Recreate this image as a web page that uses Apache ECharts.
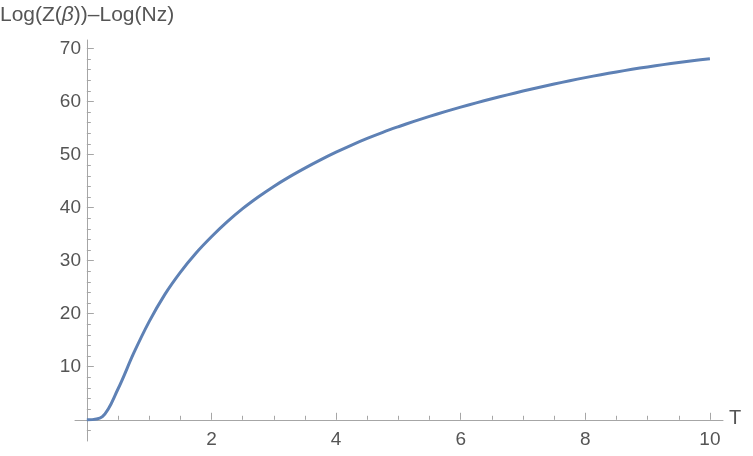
<!DOCTYPE html>
<html>
<head>
<meta charset="UTF-8">
<script type="text/javascript" src="https://cdn.jsdelivr.net/npm/echarts@6.0.0/dist/echarts.min.js"></script>
<title>Log Z</title>
<style>body{margin:0;background:#fff;}</style>
</head>
<body>
	<div id="main" style="width:753px;height:456px;"></div>
	<script type="text/javascript">
		// values, T in steps of 0.25
		var temps = [0, 0.25, 0.5, 0.75, 1, 1.25, 1.5, 1.75, 2, 2.25, 2.5, 2.75, 3, 3.25, 3.5, 3.75, 4, 4.25, 4.5, 4.75, 5,
			5.25, 5.5, 5.75, 6, 6.25, 6.5, 6.75, 7, 7.25, 7.5, 7.75, 8, 8.25, 8.5, 8.75, 9, 9.25, 9.5, 9.75, 10];
		var logZ = [0, 0.6, 5.8, 12.5, 18.5, 23.6, 27.8, 31.4, 34.5, 37.3, 39.8, 42.0, 44.0, 45.8, 47.45, 49.0, 50.45, 51.8, 53.05, 54.2, 55.25,
			56.25, 57.2, 58.1, 58.95, 59.75, 60.52, 61.26, 61.97, 62.65, 63.3, 63.92, 64.51, 65.06, 65.58, 66.07, 66.53, 66.96, 67.36, 67.73, 68.05];

		var xLabels = [2, 4, 6, 8, 10];
		var xMajor = [0, 2, 4, 6, 8, 10];
		var xMinor = [0.5, 1, 1.5, 2.5, 3, 3.5, 4.5, 5, 5.5, 6.5, 7, 7.5, 8.5, 9, 9.5];
		var yLabels = [10, 20, 30, 40, 50, 60, 70];
		var yMajor = [0, 10, 20, 30, 40, 50, 60, 70];
		var yMinor = [-2, 2, 4, 6, 8, 12, 14, 16, 18, 22, 24, 26, 28, 32, 34, 36, 38, 42, 44, 46, 48, 52, 54, 56, 58, 62, 64, 66, 68];

		var pts = [];
		for (var i = 0; i < temps.length; i++) pts.push([temps[i], logZ[i]]);

		var axisCol = '#a6a6a6';
		var txtCol = '#555555';
		var font = 'Liberation Sans, Arial, sans-serif';

		var myChart = echarts.init(document.getElementById('main'));
		var xBase = {
			type: 'value', min: -0.19, max: 10.21, position: 'bottom',
			splitLine: {show: false}
		};
		var yBase = {
			type: 'value', min: -4, max: 71.6, position: 'left',
			splitLine: {show: false}
		};
		var option = {
			animation: false,
			graphic: [
				{type: 'text', left: 0, top: 5, style: {text: 'Log(Z({i|β}))\u2013Log(Nz)', fill: txtCol, font: '21px ' + font,
					rich: {i: {fontStyle: 'italic', fontSize: 21, fontFamily: font, fill: txtCol}}}},
				{type: 'text', left: 729, top: 408, style: {text: 'T', fill: txtCol, font: '20px ' + font}}
			],
			grid: {left: 75, right: 30, top: 40, bottom: 15, containLabel: false, outerBoundsMode: 'none'},
			xAxis: [
				Object.assign({}, xBase, {
					axisLine: {onZero: true, lineStyle: {color: axisCol, width: 1}},
					axisTick: {inside: true, length: 7, customValues: xMajor, lineStyle: {color: axisCol}},
					axisLabel: {customValues: xLabels, margin: -11, color: txtCol, fontSize: 19, fontFamily: font}
				}),
				Object.assign({}, xBase, {
					axisLine: {show: false, onZero: true},
					axisTick: {inside: true, length: 4, customValues: xMinor, lineStyle: {color: axisCol}},
					axisLabel: {show: false}
				})
			],
			yAxis: [
				Object.assign({}, yBase, {
					axisLine: {show: true, onZero: true, lineStyle: {color: axisCol, width: 1}},
					axisTick: {show: true, inside: true, length: 7, customValues: yMajor, lineStyle: {color: axisCol}},
					axisLabel: {customValues: yLabels, margin: -6, color: txtCol, fontSize: 19, fontFamily: font}
				}),
				Object.assign({}, yBase, {
					axisLine: {show: false, onZero: true},
					axisTick: {show: true, inside: true, length: 4, customValues: yMinor, lineStyle: {color: axisCol}},
					axisLabel: {show: false}
				})
			],
			series: [{
				type: 'line',
				data: pts,
				smooth: 0.35,
				showSymbol: false,
				lineStyle: {color: '#5e81b5', width: 3},
				z: 5
			}]
		};
		myChart.setOption(option);
	</script>
</body>
</html>
